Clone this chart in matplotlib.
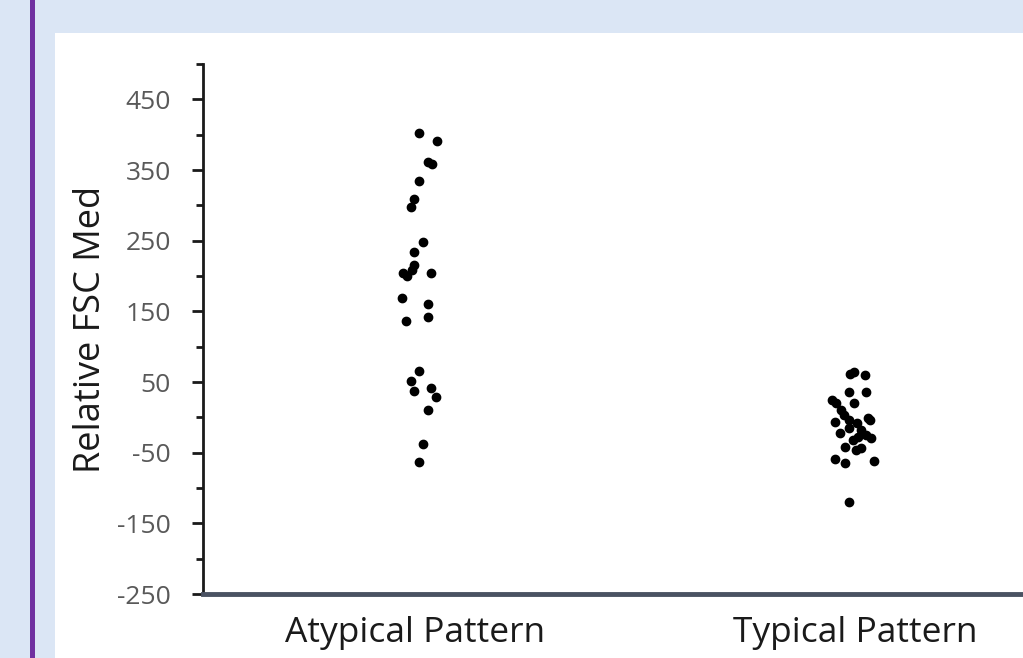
import numpy as np
import matplotlib
matplotlib.use("Agg")
import matplotlib.pyplot as plt
from matplotlib.patches import Rectangle

plt.rcParams['font.family'] = ['Open Sans', 'DejaVu Sans']
plt.rcParams['axes.unicode_minus'] = False

# categories and the relative FSC values
categories = ['Atypical Pattern', 'Typical Pattern']

atypical_vals = [403, 391, 362, 358, 334, 309, 297, 248, 234, 216, 209, 204, 200,
                 204, 169, 161, 136, 142, 65, 51, 37, 41, 29, 10, -38, -63]
atypical_jit = [0.009, 0.05, 0.03, 0.039, 0.009, -0.002, -0.009, 0.018, -0.002,
                -0.002, -0.007, -0.027, -0.018, 0.036, -0.03, 0.03, -0.02, 0.03,
                0.009, -0.009, -0.002, 0.036, 0.048, 0.03, 0.018, 0.009]

typical_vals = [62, 64, 60, 36, 36, 24, 20, 20, 10, 3, -1, -4, -7, -4, -8, -15,
                -22, -18, -25, -29, -28, -32, -42, -46, -44, -59, -65, -62, -120]
typical_jit = [-0.011, -0.002, 0.023, -0.014, 0.025, -0.052, -0.043, -0.002,
               -0.032, -0.025, 0.03, 0.034, -0.045, -0.014, 0.005, -0.014, -0.034,
               0.014, 0.025, 0.036, 0.007, -0.005, -0.023, 0.002, 0.014, -0.045,
               -0.023, 0.043, -0.014]

yticks_major = np.arange(-250, 451, 100)
yticks_minor = np.arange(-200, 501, 100)

fig = plt.figure(figsize=(10.23, 6.58), dpi=100)
fig.patch.set_facecolor('#dbe6f5')

# white panel and purple side bar
fig.patches.append(Rectangle((55 / 1023, 0), 1, 1 - 33 / 658, transform=fig.transFigure,
                             facecolor='white', edgecolor='none', zorder=-5))
fig.patches.append(Rectangle((30 / 1023, 0), 5 / 1023, 1, transform=fig.transFigure,
                             facecolor='#7030a0', edgecolor='none', zorder=-5))

ax = fig.add_axes([203 / 1023, 1 - 594 / 658, 820 / 1023, 530 / 658])
ax.set_facecolor('none')

ax.scatter(np.array(atypical_jit) + 0, atypical_vals, s=36, color='black', zorder=3,
           clip_on=False)
ax.scatter(np.array(typical_jit) + 1, typical_vals, s=36, color='black', zorder=3,
           clip_on=False)

ax.set_xlim(-0.4818, 1.3818)
ax.set_ylim(-250, 500)

ax.set_yticks(yticks_major)
ax.set_yticks(yticks_minor, minor=True)
ax.tick_params(axis='y', which='major', length=8, width=2, color='#1a1a1a',
               labelsize=19, labelcolor='#595959', pad=15)
ax.tick_params(axis='y', which='minor', length=5, width=2, color='#1a1a1a')

ax.set_xticks([0, 1])
ax.set_xticklabels(categories, fontsize=25.5, color='#1a1a1a')
ax.tick_params(axis='x', length=0, pad=16)

for s in ['top', 'right']:
    ax.spines[s].set_visible(False)
ax.spines['left'].set_color('#1a1a1a')
ax.spines['left'].set_linewidth(2)
ax.spines['bottom'].set_color('#4a5262')
ax.spines['bottom'].set_linewidth(3.5)

ax.set_ylabel('Relative FSC Med', fontsize=26, color='#1a1a1a')
ax.yaxis.set_label_coords(-0.115, 0.5)

fig.savefig('out.png', dpi=100, facecolor=fig.get_facecolor())
